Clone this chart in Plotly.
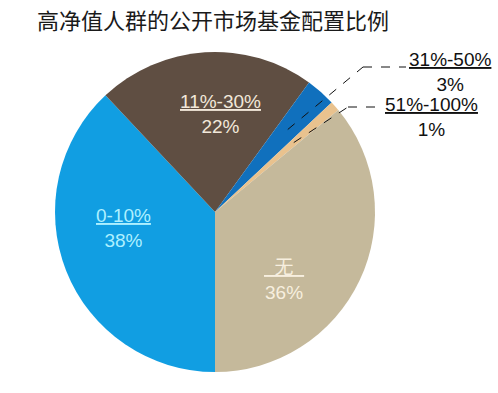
import math
import plotly.graph_objects as go

# ---- data ----
categories = ["0-10%", "11%-30%", "31%-50%", "51%-100%", "无"]
shares = [38, 22, 3, 1, 36]
title_text = "高净值人群的公开市场基金配置比例"

# ---- styles / layout constants ----
W, H = 498, 393
colors = ["#119ee2", "#5f4e42", "#1070bd", "#e9c28e", "#c5b99b"]
CX, CY, R = 215, 212, 160          # pie centre / radius in pixels
FONT = "Liberation Sans, Arial, Noto Sans CJK SC, sans-serif"
LABEL_SIZE = 19

def px(x):
    return x / W

def py(y):
    return 1 - y / H

fig = go.Figure(go.Pie(
    labels=categories,
    values=shares,
    sort=False,
    direction="clockwise",
    rotation=180,
    marker=dict(colors=colors, line=dict(width=0)),
    textinfo="none",
    hoverinfo="label+percent",
    domain=dict(x=[px(CX - R), px(CX + R)], y=[py(CY + R), py(CY - R)]),
    showlegend=False,
))

# inside label positions (pixels) and colours
inside = {
    "0-10%": ((123, 228), "#aef0ff"),
    "11%-30%": ((220, 114), "#f2e8da"),
    "无": ((284, 280), "#f7efdf"),
}
outside = {
    "31%-50%": (450, 72),
    "51%-100%": (431, 117),
}
elbows = {
    "31%-50%": ((363, 67), 406),
    "51%-100%": ((348, 107), 382),
}
start_r = {"31%-50%": 110, "51%-100%": 105}

annotations = [dict(
    text=title_text, x=px(35), y=py(19), xref="paper", yref="paper",
    xanchor="left", yanchor="middle", showarrow=False,
    font=dict(family="Noto Sans CJK SC, sans-serif", size=22, color="#1a1a1a"),
)]
shapes = []

total = sum(shares)
cum = 0
for cat, v in zip(categories, shares):
    mid = 180 + (cum + v / 2) / total * 360
    cum += v
    name = cat
    if cat == "无":
        name = "\u00a0\u00a0无\u00a0\u00a0"
    label = f"<u>{name}</u><br>{round(v / total * 100)}%"
    if cat in inside:
        (x, y), col = inside[cat]
        annotations.append(dict(
            text=label, x=px(x), y=py(y), xref="paper", yref="paper",
            xanchor="center", yanchor="middle", showarrow=False, align="center",
            font=dict(family=FONT, size=LABEL_SIZE, color=col),
        ))
    else:
        x, y = outside[cat]
        annotations.append(dict(
            text=label, x=px(x), y=py(y), xref="paper", yref="paper",
            xanchor="center", yanchor="middle", showarrow=False, align="center",
            font=dict(family=FONT, size=LABEL_SIZE, color="#111111"),
        ))
        a = math.radians(mid)
        sx = CX + start_r[cat] * math.sin(a)
        sy = CY - start_r[cat] * math.cos(a)
        (ex, ey), hx = elbows[cat]
        line = dict(color="#111111", width=1, dash="dash")
        shapes.append(dict(type="line", xref="paper", yref="paper",
                           x0=px(sx), y0=py(sy), x1=px(ex), y1=py(ey), line=line))
        shapes.append(dict(type="line", xref="paper", yref="paper",
                           x0=px(ex), y0=py(ey), x1=px(hx), y1=py(ey), line=line))

fig.update_layout(
    width=W, height=H,
    margin=dict(l=0, r=0, t=0, b=0),
    paper_bgcolor="white", plot_bgcolor="white",
    annotations=annotations, shapes=shapes,
)

fig.write_html("out.html")
